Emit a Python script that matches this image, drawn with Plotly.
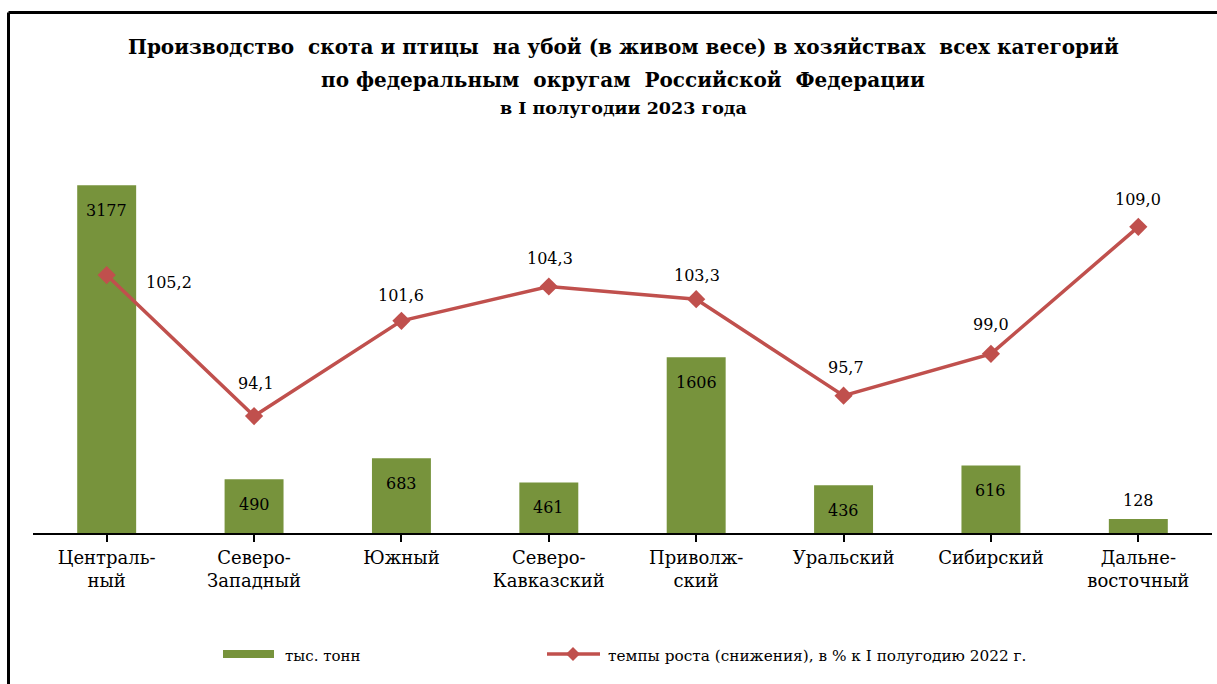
import plotly.graph_objects as go

categories = ["Централь-<br>ный", "Северо-<br>Западный", "Южный", "Северо-<br>Кавказский",
              "Приволж-<br>ский", "Уральский", "Сибирский", "Дальне-<br>восточный"]
tonnes = [3177, 490, 683, 461, 1606, 436, 616, 128]
growth = [105.2, 94.1, 101.6, 104.3, 103.3, 95.7, 99.0, 109.0]
growth_labels = ["105,2", "94,1", "101,6", "104,3", "103,3", "95,7", "99,0", "109,0"]

title_lines = ["Производство  скота и птицы  на убой (в живом весе) в хозяйствах  всех категорий",
               "по федеральным  округам  Российской  Федерации",
               "в I полугодии 2023 года"]
legend_bar = "тыс. тонн"
legend_line = "темпы роста (снижения), в % к I полугодию 2022 г."

GREEN = "#77933C"
RED = "#C0504D"
FONT = "DejaVu Serif"

W, H = 1217, 684
L, R, T, B = 33, 5, 150, 151
PW, PH = W - L - R, H - T - B

def px(x):
    return (x - L) / PW

def py(y):
    return (H - B - y) / PH

xs = list(range(len(categories)))

fig = go.Figure()
fig.add_trace(go.Bar(x=xs, y=tonnes, marker=dict(color=GREEN, line=dict(width=0)),
                     width=0.4, yaxis="y", showlegend=False, hoverinfo="y"))
fig.add_trace(go.Scatter(x=xs, y=growth, mode="lines+markers", yaxis="y2",
                         line=dict(color=RED, width=3.5),
                         marker=dict(symbol="diamond", size=14, color=RED),
                         showlegend=False))

annotations = []
for i, v in enumerate(tonnes):
    inside = v > 300
    annotations.append(dict(x=i, y=v, xref="x", yref="y", text=str(v), showarrow=False,
                            yanchor="middle", yshift=-25 if inside else 18,
                            font=dict(family=FONT, size=16, color="black")))
line_offsets = [(62, -7), (2, 33), (0, 25), (1, 28), (1, 24), (2, 28), (0, 29), (0, 27)]
for i, (v, t) in enumerate(zip(growth, growth_labels)):
    dx, dy = line_offsets[i]
    annotations.append(dict(x=i, y=v, xref="x", yref="y2", text=t, showarrow=False,
                            xshift=dx, yshift=dy, yanchor="middle",
                            font=dict(family=FONT, size=16, color="black")))
title_pos = [(47, 20), (80, 20), (108, 17.5)]
for txt, (yy, sz) in zip(title_lines, title_pos):
    annotations.append(dict(x=px(623), y=py(yy), xref="paper", yref="paper",
                            text="<b>" + txt + "</b>", showarrow=False,
                            xanchor="center", yanchor="middle",
                            font=dict(family=FONT, size=sz, color="black")))
annotations.append(dict(x=px(283), y=py(656), xref="paper", yref="paper", text=legend_bar,
                        showarrow=False, xanchor="left", yanchor="middle",
                        font=dict(family=FONT, size=15, color="black")))
annotations.append(dict(x=px(606), y=py(656), xref="paper", yref="paper", text=legend_line,
                        showarrow=False, xanchor="left", yanchor="middle",
                        font=dict(family=FONT, size=15.3, color="black")))

shapes = [
    dict(type="line", xref="paper", yref="paper", x0=px(8.5), x1=px(1230), y0=py(12.5), y1=py(12.5),
         line=dict(color="black", width=3)),
    dict(type="line", xref="paper", yref="paper", x0=px(8.5), x1=px(8.5), y0=py(12.5), y1=py(700),
         line=dict(color="black", width=3)),
    dict(type="rect", xref="paper", yref="paper", x0=px(223), x1=px(274), y0=py(650), y1=py(658),
         fillcolor=GREEN, line=dict(width=0)),
    dict(type="line", xref="paper", yref="paper", x0=px(547), x1=px(600), y0=py(654), y1=py(654),
         line=dict(color=RED, width=3.5)),
    dict(type="path", xref="paper", yref="paper",
         path=f"M {px(566)} {py(654)} L {px(573)} {py(647)} L {px(580)} {py(654)} L {px(573)} {py(661)} Z",
         fillcolor=RED, line=dict(width=0)),
]

fig.update_layout(
    width=W, height=H,
    margin=dict(l=L, r=R, t=T, b=B),
    paper_bgcolor="white", plot_bgcolor="white",
    font=dict(family=FONT, color="black"),
    xaxis=dict(tickmode="array", tickvals=xs, ticktext=categories, range=[-0.5, 7.5],
               showline=True, linecolor="black", linewidth=2, ticks="outside",
               tickson="boundaries", ticklen=7, tickwidth=1.5, tickcolor="black",
               showgrid=False, zeroline=False, tickfont=dict(family=FONT, size=18, color="black")),
    yaxis=dict(range=[0, 3498], visible=False, showgrid=False, zeroline=False),
    yaxis2=dict(range=[84.89, 115.05], overlaying="y", visible=False, showgrid=False, zeroline=False),
    annotations=annotations,
    shapes=shapes,
    showlegend=False,
)

fig.write_html("out.html")
